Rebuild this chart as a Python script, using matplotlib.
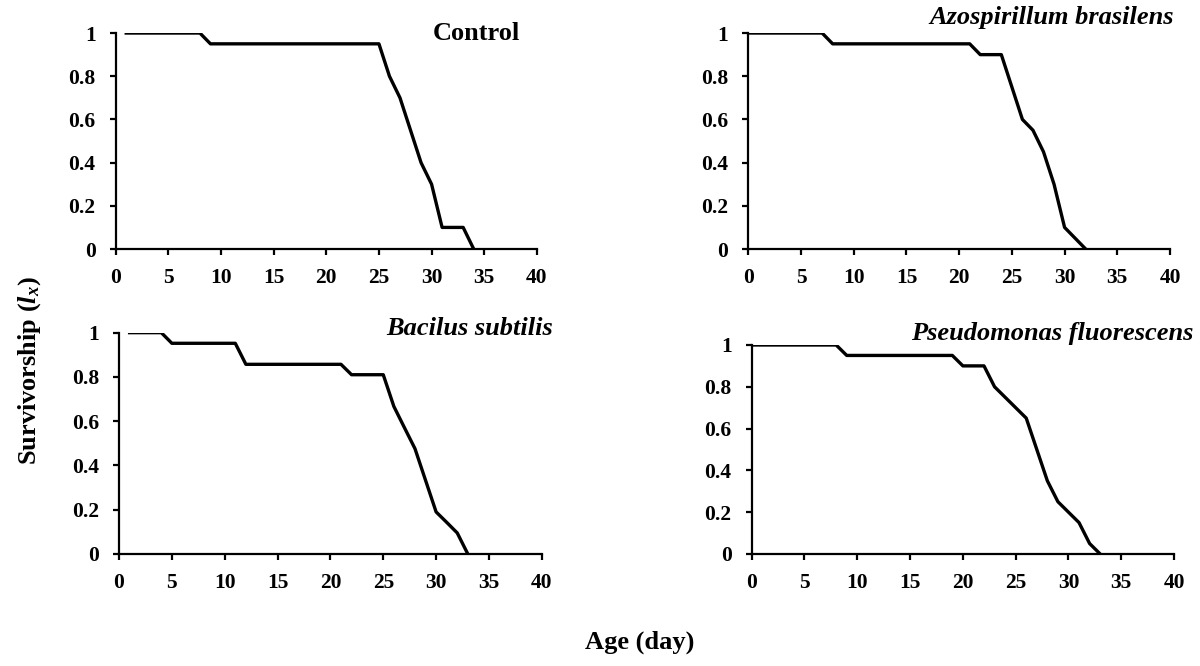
import matplotlib
matplotlib.use("Agg")
import matplotlib.pyplot as plt

plt.rcParams['font.family'] = 'Liberation Serif'
plt.rcParams['font.weight'] = 'bold'
plt.rcParams['mathtext.fontset'] = 'custom'
plt.rcParams['mathtext.it'] = 'Liberation Serif:bold:italic'
plt.rcParams['mathtext.rm'] = 'Liberation Serif:bold'

# survivorship data (lx) per treatment
control_age = [1, 2, 3, 4, 5, 6, 7, 8, 9, 10, 11, 12, 13, 14, 15, 16, 17, 18, 19, 20, 21, 22, 23, 24, 25,
               26, 27, 28, 29, 30, 31, 32, 33, 34]
control_lx = [1, 1, 1, 1, 1, 1, 1, 1, 0.95, 0.95, 0.95, 0.95, 0.95, 0.95, 0.95, 0.95, 0.95, 0.95, 0.95,
              0.95, 0.95, 0.95, 0.95, 0.95, 0.95, 0.8, 0.7, 0.55, 0.4, 0.3, 0.1, 0.1, 0.1, 0]

azo_age = [0, 1, 2, 3, 4, 5, 6, 7, 8, 9, 10, 11, 12, 13, 14, 15, 16, 17, 18, 19, 20, 21, 22, 23, 24,
           25, 26, 27, 28, 29, 30, 31, 32]
azo_lx = [1, 1, 1, 1, 1, 1, 1, 1, 0.95, 0.95, 0.95, 0.95, 0.95, 0.95, 0.95, 0.95, 0.95, 0.95, 0.95, 0.95,
          0.95, 0.95, 0.9, 0.9, 0.9, 0.75, 0.6, 0.55, 0.45, 0.3, 0.1, 0.05, 0]

bac_age = [1, 2, 3, 4, 5, 6, 7, 8, 9, 10, 11, 12, 13, 14, 15, 16, 17, 18, 19, 20, 21, 22, 23, 24, 25,
           26, 27, 28, 29, 30, 31, 32, 33]
bac_lx = [1, 1, 1, 1, 0.952, 0.952, 0.952, 0.952, 0.952, 0.952, 0.952, 0.857, 0.857, 0.857, 0.857,
          0.857, 0.857, 0.857, 0.857, 0.857, 0.857, 0.81, 0.81, 0.81, 0.81, 0.667, 0.571, 0.476, 0.333,
          0.19, 0.143, 0.095, 0]

pse_age = [0, 1, 2, 3, 4, 5, 6, 7, 8, 9, 10, 11, 12, 13, 14, 15, 16, 17, 18, 19, 20, 21, 22, 23, 24,
           25, 26, 27, 28, 29, 30, 31, 32, 33]
pse_lx = [1, 1, 1, 1, 1, 1, 1, 1, 1, 0.95, 0.95, 0.95, 0.95, 0.95, 0.95, 0.95, 0.95, 0.95, 0.95, 0.95,
          0.9, 0.9, 0.9, 0.8, 0.75, 0.7, 0.65, 0.5, 0.35, 0.25, 0.2, 0.15, 0.05, 0]

panels = [
    ("Control", control_age, control_lx, [0.0964, 0.6261, 0.3510, 0.3243], 'normal', (0.96, 1.0)),
    ("Azospirillum brasilens", azo_age, azo_lx, [0.6236, 0.6261, 0.3514, 0.3243], 'italic', (1.01, 1.074)),
    ("Bacilus subtilis", bac_age, bac_lx, [0.0992, 0.1682, 0.3523, 0.3323], 'italic', (1.027, 1.017)),
    ("Pseudomonas fluorescens", pse_age, pse_lx, [0.6264, 0.1682, 0.3520, 0.3138], 'italic', (1.045, 1.056)),
]

fig = plt.figure(figsize=(12, 6.66), dpi=100)

for title, age, lx, rect, style, tpos in panels:
    ax = fig.add_axes(rect)
    ax.plot(age, lx, color='black', linewidth=2.4)
    ax.set_xlim(0, 40)
    ax.set_ylim(0, 1)
    ax.set_xticks(range(0, 41, 5))
    ax.set_yticks([0, 0.2, 0.4, 0.6, 0.8, 1])
    ax.set_yticklabels(['0', '0.2', '0.4', '0.6', '0.8', '1'])
    ax.spines['top'].set_visible(False)
    ax.spines['right'].set_visible(False)
    ax.spines['left'].set_linewidth(1.6)
    ax.spines['bottom'].set_linewidth(1.6)
    ax.tick_params(direction='out', length=4.5, width=1.6, labelsize=15.5)
    ax.tick_params(axis='x', pad=9)
    ax.tick_params(axis='y', pad=10)
    for lab in ax.get_xticklabels() + ax.get_yticklabels():
        lab.set_fontweight('bold')
    ax.text(tpos[0], tpos[1], title, transform=ax.transAxes, ha='right', va='center',
            fontsize=19, fontweight='bold', fontstyle=style, clip_on=False)

fig.text(0.025, 0.443, r'Survivorship ($l_x$)', rotation=90, ha='center', va='center',
         fontsize=19, fontweight='bold')
fig.text(0.533, 0.036, 'Age (day)', ha='center', va='center', fontsize=19, fontweight='bold')

fig.savefig('out.png', dpi=100)
